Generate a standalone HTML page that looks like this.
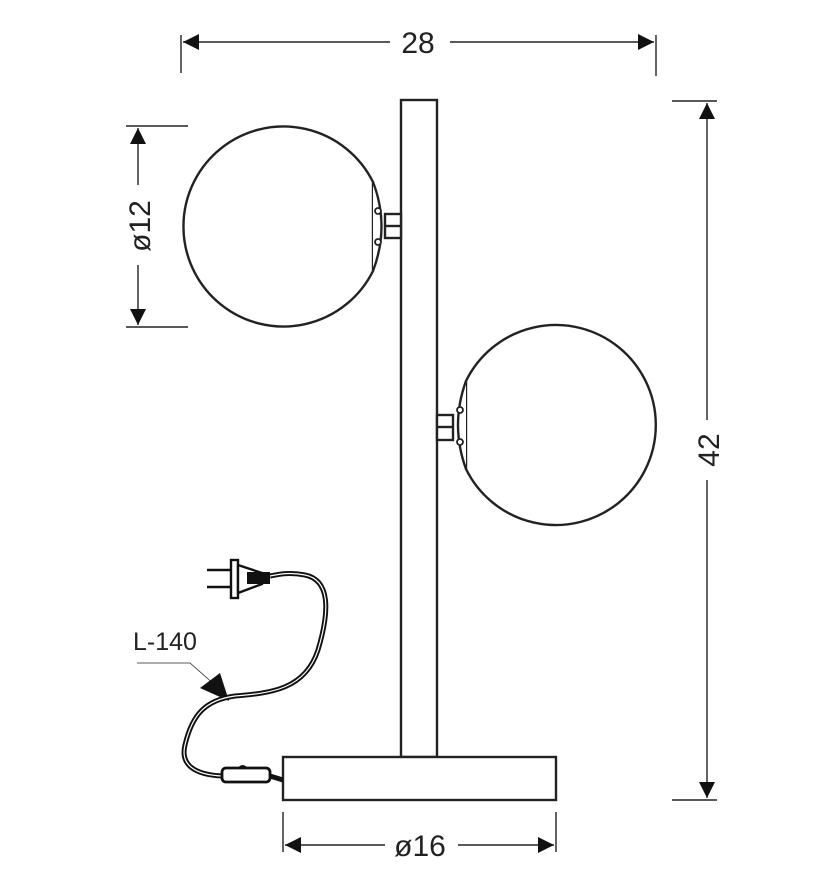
<!DOCTYPE html><html><head><style>body{margin:0;background:#fff}svg{display:block}text{font-family:"Liberation Sans",sans-serif;fill:#222}</style></head><body>
<svg width="828" height="886" viewBox="0 0 828 886" xmlns="http://www.w3.org/2000/svg">
<defs><marker id="a" viewBox="0 0 10 10" refX="10" refY="5" markerWidth="22" markerHeight="16" markerUnits="userSpaceOnUse" orient="auto-start-reverse"><path d="M0 0L10 5L0 10z" fill="#111"/></marker></defs>
<g stroke="#222" fill="none" stroke-width="1.4">
<line x1="181" y1="35" x2="181" y2="73"/><line x1="656" y1="35" x2="656" y2="76"/>
<line x1="183" y1="42" x2="390" y2="42" marker-start="url(#a)"/><line x1="450" y1="42" x2="654" y2="42" marker-end="url(#a)"/>
<line x1="672" y1="101" x2="717" y2="101"/><line x1="672" y1="800" x2="717" y2="800"/>
<line x1="707" y1="103" x2="707" y2="420" marker-start="url(#a)"/><line x1="707" y1="480" x2="707" y2="798" marker-end="url(#a)"/>
<line x1="126" y1="126" x2="188" y2="126"/><line x1="126" y1="327" x2="188" y2="327"/>
<line x1="138" y1="128" x2="138" y2="185" marker-start="url(#a)"/><line x1="138" y1="265" x2="138" y2="325" marker-end="url(#a)"/>
<line x1="283" y1="812" x2="283" y2="852"/><line x1="556" y1="812" x2="556" y2="852"/>
<line x1="285" y1="845" x2="385" y2="845" marker-start="url(#a)"/><line x1="458" y1="845" x2="554" y2="845" marker-end="url(#a)"/>
<polyline points="137,663 190,663 215,685" stroke-width="0.8"/>
</g>
<path d="M200,688L220,673L229,701z" fill="#111"/>
<g stroke="#222" stroke-width="2.4" fill="#fff">
<rect x="401" y="100" width="36" height="657"/>
<rect x="283" y="757" width="273" height="43"/>
<rect x="385" y="214" width="16" height="24"/><line x1="385" y1="226" x2="401" y2="226"/>
<rect x="437" y="415" width="16" height="25"/><line x1="437" y1="427" x2="453" y2="427"/>
<path d="M373,182 A100,100 0 1 0 373,271 Z"/>
<path d="M373,182 Q390,226 373,271"/>
<path d="M466,381 A100,100 0 1 1 466,469 Z"/>
<path d="M466,381 Q450,425 466,469"/>
</g>
<g fill="#fff" stroke="#222" stroke-width="1.8"><circle cx="378" cy="211" r="3"/><circle cx="378" cy="242" r="3"/><circle cx="460" cy="410" r="3"/><circle cx="460" cy="442" r="3"/></g>
<g fill="none" stroke="#111" stroke-width="5"><path d="M283,780 L270,776"/><path d="M223,776 C195,775 180,765 185,745 C192,715 205,700 235,696 C270,693 305,690 318,650 C330,610 330,580 305,575 C290,572 280,574 270,576"/></g>
<g fill="none" stroke="#fff" stroke-width="1.2"><path d="M223,776 C195,775 180,765 185,745 C192,715 205,700 235,696 C270,693 305,690 318,650 C330,610 330,580 305,575 C290,572 280,574 270,576"/></g>
<rect x="222" y="768" width="48" height="14" rx="4" fill="#fff" stroke="#111" stroke-width="2.8"/>
<path d="M238,768 q4,-6 10,0" fill="#111"/>
<g stroke="#111" stroke-width="2.4" fill="#fff"><line x1="207" y1="570" x2="231" y2="570"/><line x1="207" y1="587" x2="231" y2="587"/><rect x="231" y="560" width="7" height="38"/><path d="M238,565 L262,573 L262,584 L238,593 Z"/></g>
<rect x="247" y="572" width="23" height="12" fill="#111"/>
<text x="418" y="53" font-size="30" text-anchor="middle">28</text>
<text x="420" y="856" font-size="30" text-anchor="middle">ø16</text>
<text x="165" y="650" font-size="25" text-anchor="middle">L-140</text>
<text transform="translate(719,450) rotate(-90)" font-size="30" text-anchor="middle">42</text>
<text transform="translate(150,226) rotate(-90)" font-size="30" text-anchor="middle">ø12</text>
</svg></body></html>
